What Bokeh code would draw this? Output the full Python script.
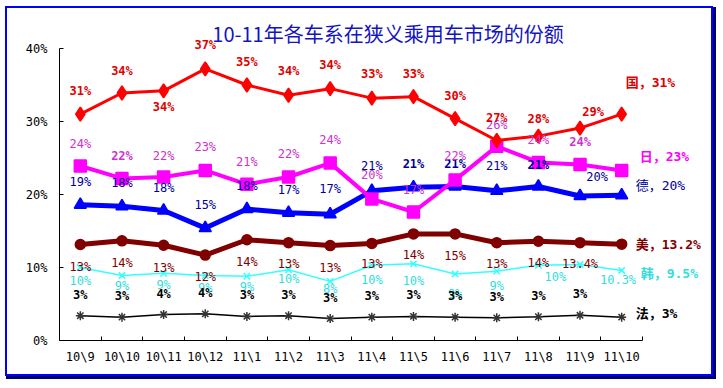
from bokeh.plotting import figure
from bokeh.models import (Range1d, FixedTicker, ColumnDataSource, Label, LabelSet,
                          CustomJSTickFormatter, PrintfTickFormatter)
from bokeh.core.properties import value, field
from bokeh.embed import file_html
from bokeh.resources import INLINE

# ---------------- data ----------------
months = ["10\\9", "10\\10", "10\\11", "10\\12", "11\\1", "11\\2", "11\\3",
          "11\\4", "11\\5", "11\\6", "11\\7", "11\\8", "11\\9", "11\\10"]

guo = [31.0, 33.9, 34.2, 37.2, 35.0, 33.6, 34.5, 33.2, 33.4, 30.4, 27.4, 28.0, 29.1, 31.0]
ri = [23.9, 22.2, 22.4, 23.3, 21.4, 22.4, 24.3, 19.4, 17.6, 22.0, 26.6, 24.4, 24.1, 23.3]
de = [18.6, 18.4, 17.8, 15.4, 18.0, 17.5, 17.3, 20.5, 21.0, 21.1, 20.5, 21.1, 19.8, 19.9]
mei = [13.15, 13.65, 13.05, 11.7, 13.8, 13.4, 13.0, 13.3, 14.6, 14.6, 13.4, 13.6, 13.4, 13.2]
han = [10.0, 8.9, 9.2, 8.9, 8.8, 9.7, 8.1, 10.3, 10.5, 9.1, 9.5, 10.3, 10.4, 9.6]
fa = [3.4, 3.2, 3.55, 3.65, 3.3, 3.4, 3.0, 3.2, 3.3, 3.2, 3.1, 3.25, 3.45, 3.2]

guo_labels = ["31%", "34%", "34%", "37%", "35%", "34%", "34%", "33%", "33%", "30%", "27%", "28%", "29%"]
ri_labels = ["24%", "22%", "22%", "23%", "21%", "22%", "24%", "20%", "17%", "22%", "26%", "24%", "24%"]
de_labels = ["19%", "18%", "18%", "15%", "18%", "17%", "17%", "21%", "21%", "21%", "21%", "21%", "20%"]
mei_labels = ["13%", "14%", "13%", "12%", "14%", "13%", "13%", "13%", "14%", "15%", "13%", "14%", "13.4%"]
han_labels = ["10%", "9%", "9%", "9%", "9%", "10%", "8%", "10%", "10%", "9%", "9%", "10%", "10.3%"]
fa_labels = ["3%", "3%", "4%", "4%", "3%", "3%", "3%", "3%", "3%", "3%", "3%", "3%", "3%"]
end_labels = ["国，31%", "日，23%", "德，20%", "美，13.2%", "韩，9.5%", "法，3%"]

y_ticks = [0, 10, 20, 30, 40]
title_text = "10-11年各车系在狭义乘用车市场的份额"

# ---------------- layout (page pixels) ----------------
MX, MY = 5, 6             # css margin of the framed chart
OX, OY = MX + 2, MY + 2   # page position of the figure content (inside the border)
W, H = 708, 370           # figure size (inside the css border)
AX_L, AX_R = 59, 642      # page x of the category axis ends
AX_T, AX_B = 48, 340      # page y of 40% and 0%
NX = len(months)
YMAX = 40
L = AX_L - OX
B = OY + H - AX_B
FW = W - L
FH = H - B
XPP = NX / (AX_R - AX_L)
YPP = YMAX / (AX_B - AX_T)


def fx(page_x):
    return (page_x - AX_L) * XPP


def fy(page_y):
    return (AX_B - page_y) * YPP


NUM_FONT = "DejaVu Sans Mono, Noto Sans CJK SC"

p = figure(width=W, height=H, x_range=Range1d(0, FW * XPP), y_range=Range1d(0, FH * YPP),
           output_backend="svg", toolbar_location=None,
           min_border_left=L, min_border_right=0, min_border_top=0, min_border_bottom=B,
           background_fill_color="white", border_fill_color="white",
           outline_line_color=None,
           styles={"border": "2px solid #0000ff", "box-shadow": "2px 2px 0 1px #000070",
                   "margin-left": f"{MX}px", "margin-top": f"{MY}px"})
p.grid.visible = False

xs = [i + 0.5 for i in range(NX)]

# x axis
xa = p.xaxis[0]
xa.bounds = (0, NX)
xa.ticker = FixedTicker(ticks=xs, minor_ticks=list(range(NX + 1)))
xa.formatter = CustomJSTickFormatter(args=dict(labels=months),
                                     code="return labels[Math.round(tick - 0.5)];")
xa.major_tick_in = 0
xa.major_tick_out = 0
xa.minor_tick_in = 4
xa.minor_tick_out = 0
xa.minor_tick_line_color = "black"
xa.axis_line_color = "black"
xa.major_label_text_font = NUM_FONT
xa.major_label_text_font_size = "12px"
xa.major_label_text_color = "black"
xa.major_label_standoff = 9

# y axis
ya = p.yaxis[0]
ya.bounds = (0, YMAX)
ya.ticker = FixedTicker(ticks=y_ticks)
ya.formatter = PrintfTickFormatter(format="%d%%")
ya.major_tick_in = 4
ya.major_tick_out = 0
ya.minor_tick_line_color = None
ya.axis_line_color = "black"
ya.major_tick_line_color = "black"
ya.major_label_text_font = NUM_FONT
ya.major_label_text_font_size = "12px"
ya.major_label_text_color = "black"
ya.major_label_standoff = 12

# series: values, line colour, width, marker, marker size, marker colour
series = [
    (fa, "#000000", 1.5, "asterisk", 9, "#333333"),
    (han, "#33ffff", 1.5, "x", 9, "#33ffff"),
    (mei, "#800000", 5, "circle", 10, "#800000"),
    (de, "#0000ff", 5, "triangle", 12, "#0000ff"),
    (ri, "#ff00ff", 4, "square", 12, "#ff00ff"),
    (guo, "#ff0000", 3, "diamond", 14, "#ff0000"),
]
for vals, col, lw, mk, ms, mc in series:
    p.line(xs, vals, line_color=col, line_width=lw)
    p.scatter(xs, vals, marker=mk, size=ms, fill_color=mc, line_color=mc, line_width=1.5)

# ---------------- data labels ----------------
lab_specs = [
    (han_labels, han, "#33dddd", set(), [13, 10, 12, 12, 11, 9, 8, 15, 17, 20, 15, 12, 15], {11: 17, 12: 38}),
    (mei_labels, mei, "#800000", set(), [22, 22, 23, 22, 22, 21, 22, 21, 21, 22, 21, 22, 21], {}),
    (de_labels, de, "#000099", {8, 9, 11}, [-23, -23, -23, -23, -23, -23, -25, -25, -23, -22, -25, -21, -19], {12: 17}),
    (ri_labels, ri, "#cc33cc", {1, 12}, [-22, -22, -21, -23, -22, -23, -23, -24, -22, -24, -21, -22, -23], {}),
    (guo_labels, guo, "#e00000", set(range(13)), [-23, -22, 16, -24, -23, -24, -24, -24, -23, -23, -22, -17, -16], {12: 13}),
    (fa_labels, fa, "#000000", set(range(13)), [-21] * 13, {}),
]
lx, ly, lt, lc, ls = [], [], [], [], []
for labels, vals, col, bold, yoff, xoff in lab_specs:
    for i, t in enumerate(labels):
        lx.append(xs[i] + xoff.get(i, 0) * XPP)
        ly.append(vals[i] - yoff[i] * YPP)
        lt.append(t)
        lc.append(col)
        ls.append("bold" if i in bold else "normal")
src = ColumnDataSource(dict(x=lx, y=ly, text=lt, color=lc, style=ls))
p.add_layout(LabelSet(x="x", y="y", text="text", source=src, text_color=field("color"),
                      text_font_style=field("style"), text_font=value(NUM_FONT),
                      text_font_size="12px", text_align="center", text_baseline="middle"))

# ---------------- end labels ----------------
end_vals = [guo[-1], ri[-1], de[-1], mei[-1], han[-1], fa[-1]]
end_cols = ["#e00000", "#ff00ff", "#000099", "#800000", "#33dddd", "#000000"]
end_style = ["bold", "bold", "normal", "bold", "bold", "bold"]
end_off = [(4, -32), (18, -14), (14, -10), (14, 0), (19, 3), (14, -4)]
ex = [xs[-1] + dx * XPP for dx, dy in end_off]
ey = [v - dy * YPP for v, (dx, dy) in zip(end_vals, end_off)]
esrc = ColumnDataSource(dict(x=ex, y=ey, text=end_labels, color=end_cols, style=end_style))
p.add_layout(LabelSet(x="x", y="y", text="text", source=esrc, text_color=field("color"),
                      text_font_style=field("style"), text_font=value(NUM_FONT),
                      text_font_size="13px", text_align="left", text_baseline="middle"))

# ---------------- title ----------------
p.add_layout(Label(x=fx(387.5), y=fy(33), text=title_text, text_align="center",
                   text_baseline="middle", text_font="Noto Sans CJK SC",
                   text_font_size="20px", text_color="#1414c0"))

open("out.html", "w").write(file_html(p, INLINE))
